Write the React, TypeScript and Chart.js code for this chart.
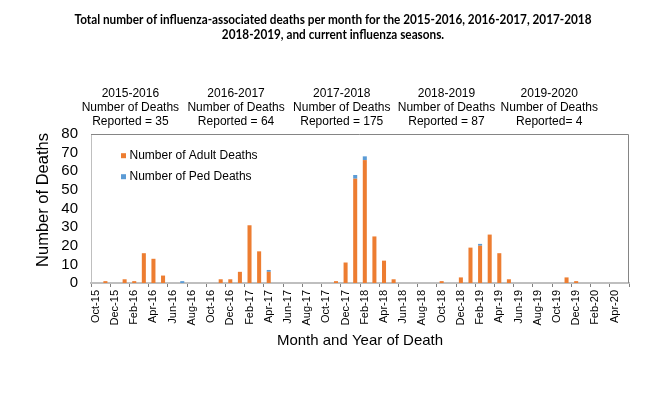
import React, { useEffect, useRef } from "react";
import { Chart, registerables } from "chart.js";

Chart.register(...registerables);

const months = [
  "Oct-15", "Nov-15", "Dec-15",
  "Jan-16", "Feb-16", "Mar-16", "Apr-16", "May-16", "Jun-16", "Jul-16", "Aug-16", "Sep-16", "Oct-16", "Nov-16", "Dec-16",
  "Jan-17", "Feb-17", "Mar-17", "Apr-17", "May-17", "Jun-17", "Jul-17", "Aug-17", "Sep-17", "Oct-17", "Nov-17", "Dec-17",
  "Jan-18", "Feb-18", "Mar-18", "Apr-18", "May-18", "Jun-18", "Jul-18", "Aug-18", "Sep-18", "Oct-18", "Nov-18", "Dec-18",
  "Jan-19", "Feb-19", "Mar-19", "Apr-19", "May-19", "Jun-19", "Jul-19", "Aug-19", "Sep-19", "Oct-19", "Nov-19", "Dec-19",
  "Jan-20", "Feb-20", "Mar-20", "Apr-20", "May-20",
];

const adultDeaths = [
  0, 1, 0, 2, 1, 16, 13, 4, 0, 0, 0, 0,
  0, 2, 2, 6, 31, 17, 6, 0, 0, 0, 0, 0,
  0, 1, 11, 56, 66, 25, 12, 2, 0, 0, 0, 0,
  1, 0, 3, 19, 20, 26, 16, 2, 0, 0, 0, 0,
  0, 3, 1, 0, 0, 0, 0, 0,
];

const pedDeaths = [
  0, 0, 0, 0, 0, 0, 0, 0, 0, 1, 0, 0,
  0, 0, 0, 0, 0, 0, 1, 0, 0, 0, 0, 0,
  0, 0, 0, 2, 2, 0, 0, 0, 0, 0, 0, 0,
  0, 0, 0, 0, 1, 0, 0, 0, 0, 0, 0, 0,
  0, 0, 0, 0, 0, 0, 0, 0,
];

const seriesNames = ["Number of Adult Deaths", "Number of Ped Deaths"];
const seasonNames = ["2015-2016", "2016-2017", "2017-2018", "2018-2019", "2019-2020"];
const seasonReported = ["Reported = 35", "Reported = 64", "Reported = 175", "Reported = 87", "Reported= 4"];
const titleLines = [
  "Total number of influenza-associated deaths per month for the 2015-2016, 2016-2017, 2017-2018",
  "2018-2019, and current influenza seasons.",
];
const yTitle = "Number of Deaths";
const xTitle = "Month and Year of Death";

const ORANGE = "#ED7D31";
const BLUE = "#5B9BD5";
const FONT = "'Liberation Sans', Arial, sans-serif";
const TITLE_FONT = "Lato, 'Open Sans', sans-serif";

// label centres (in category-index units) for the season annotations
const seasonPos = [3.6, 14.6, 25.6, 36.5, 47.2];

const decorPlugin = {
  id: "decor",
  beforeDatasetsDraw(chart: any) {
    const { ctx, chartArea } = chart;
    ctx.save();
    ctx.strokeStyle = "#858585";
    ctx.lineWidth = 1;
    ctx.beginPath();
    ctx.moveTo(chartArea.left, chartArea.top + 0.5);
    ctx.lineTo(chartArea.right - 0.5, chartArea.top + 0.5);
    ctx.lineTo(chartArea.right - 0.5, chartArea.bottom);
    ctx.stroke();
    ctx.restore();
  },
  afterDraw(chart: any) {
    const { ctx, chartArea, scales } = chart;
    ctx.save();
    // Title (horizontally condensed to mimic a narrow bold face)
    ctx.fillStyle = "#000";
    ctx.textAlign = "center";
    ctx.textBaseline = "alphabetic";
    ctx.font = `bold 13px ${TITLE_FONT}`;
    const w = ctx.measureText(titleLines[0]).width;
    const sx = 517 / w;
    ctx.save();
    ctx.translate(333, 0);
    ctx.scale(sx, 1);
    ctx.fillText(titleLines[0], 0, 24);
    ctx.fillText(titleLines[1], 0, 38.5);
    ctx.restore();

    // Season annotations
    ctx.font = `12px ${FONT}`;
    ctx.textBaseline = "middle";
    const xs = scales.x;
    seasonNames.forEach((s, i) => {
      const cx = xs.getPixelForValue(seasonPos[i]);
      ctx.fillText(s, cx, 93.7);
      ctx.fillText("Number of Deaths", cx, 107.8);
      ctx.fillText(seasonReported[i], cx, 122);
    });

    // Legend
    const colors = [ORANGE, BLUE];
    ctx.textAlign = "left";
    seriesNames.forEach((n, i) => {
      const cy = chartArea.top + 21.7 + i * 21;
      ctx.fillStyle = colors[i];
      ctx.fillRect(chartArea.left + 30, cy - 2.5, 5, 5);
      ctx.fillStyle = "#000";
      ctx.fillText(n, chartArea.left + 38.5, cy);
    });

    // Y title
    ctx.font = `16.5px ${FONT}`;
    ctx.textAlign = "center";
    ctx.translate(43.5, 200);
    ctx.rotate(-Math.PI / 2);
    ctx.fillText(yTitle, 0, 0);
    ctx.restore();
  },
};

export default function App() {
  const ref = useRef<HTMLCanvasElement | null>(null);
  useEffect(() => {
    if (!ref.current) return;
    const chart = new Chart(ref.current, {
      type: "bar",
      data: {
        labels: months,
        datasets: [
          {
            label: seriesNames[0],
            data: adultDeaths,
            backgroundColor: ORANGE,
            barPercentage: 0.42,
            categoryPercentage: 1,
          },
          {
            label: seriesNames[1],
            data: pedDeaths,
            backgroundColor: BLUE,
            barPercentage: 0.42,
            categoryPercentage: 1,
          },
        ],
      },
      options: {
        responsive: false,
        animation: false,
        layout: { padding: { top: 134, right: 35, bottom: 44, left: 0 } },
        plugins: {
          legend: { display: false },
          tooltip: { enabled: false },
          title: { display: false },
        },
        scales: {
          x: {
            stacked: true,
            grid: {
              offset: true,
              drawOnChartArea: false,
              drawTicks: true,
              tickLength: 4,
              tickColor: (c: any) =>
                c.index === undefined || c.index % 2 === 0 ? "#7F7F7F" : "rgba(0,0,0,0)",
            },
            border: { display: true, color: "#BFBFBF", width: 2 },
            ticks: {
              autoSkip: false,
              maxRotation: 90,
              minRotation: 90,
              padding: 3,
              color: "#000",
              font: { family: FONT, size: 11 },
              callback: (_v: any, i: number) => (i % 2 === 0 ? months[i] : ""),
            },
            title: {
              display: true,
              text: xTitle,
              color: "#000",
              font: { family: FONT, size: 15 },
              padding: { top: 0, bottom: 0 },
            },
            afterFit: (s: any) => {
              s.height = 67;
            },
          },
          y: {
            stacked: true,
            min: 0,
            max: 80,
            grid: { display: false, drawTicks: false },
            border: { display: true, color: "#BFBFBF", width: 1 },
            ticks: {
              stepSize: 10,
              autoSkip: false,
              padding: 13,
              color: "#000",
              font: { family: FONT, size: 15 },
            },
            afterFit: (s: any) => {
              s.width = 91;
            },
          },
        },
      },
      plugins: [decorPlugin],
    });
    return () => chart.destroy();
  }, []);

  return (
    <div
      style={{
        position: "absolute",
        left: 0,
        top: 0,
        width: 664,
        height: 394,
        background: "#fff",
      }}
    >
      <canvas ref={ref} width={664} height={394} style={{ display: "block" }} />
    </div>
  );
}
